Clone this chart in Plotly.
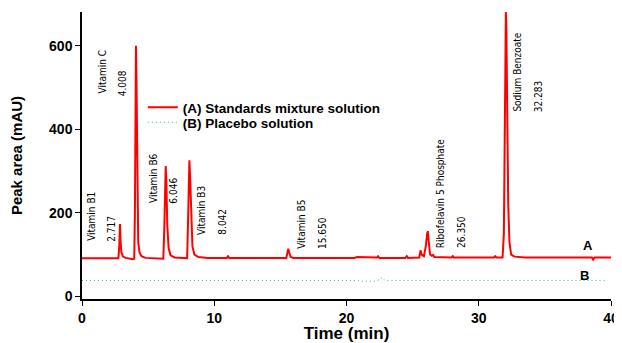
import plotly.graph_objects as go

# ---- Data ----
time_a = [0, 2.75, 2.82, 2.87, 2.92, 2.98, 3.1, 3.3, 3.85, 3.95, 4.0, 4.05, 4.08, 4.12, 4.18, 4.25, 4.35, 4.5, 4.8,
          6.15, 6.22, 6.28, 6.33, 6.38, 6.45, 6.55, 6.7, 7.0,
          7.95, 8.02, 8.08, 8.12, 8.17, 8.25, 8.35, 8.5, 8.8, 9.5,
          10.95, 11.04, 11.12, 15.45, 15.55, 15.6, 15.67, 15.78, 16.0,
          20.6, 20.8, 21.8, 22.3, 22.39, 22.48, 24.45, 24.56, 24.65,
          25.5, 25.6, 25.68, 25.85, 26.0, 26.1, 26.15, 26.22, 26.32, 26.45, 26.55, 26.65,
          27.95, 28.04, 28.1, 31.15, 31.24, 31.33,
          31.8, 31.9, 31.97, 32.02, 32.05, 32.09, 32.15, 32.23, 32.32, 32.45, 32.7, 33.5,
          38.55, 38.65, 38.75, 40]
signal_a = [91, 91, 120, 173, 130, 105, 95, 92, 89, 90, 200, 520, 600, 520, 250, 130, 105, 96, 92,
            90, 160, 280, 312, 270, 170, 115, 98, 93,
            91, 180, 300, 326, 290, 180, 120, 100, 94, 92,
            92, 97, 92, 92, 110, 114, 105, 94, 92,
            92, 94, 94, 93, 96, 92, 92, 96, 92,
            93, 110, 100, 96, 120, 150, 156, 130, 100, 97, 99, 94,
            93, 96, 93, 93, 96, 93,
            93, 150, 400, 640, 682, 640, 450, 220, 130, 100, 95, 93,
            93, 88, 93, 93]

time_b = [0, 20.8, 21.0, 22.2, 22.5, 22.7, 22.9, 39.7]
signal_b = [38, 38, 36, 36, 40, 45, 38, 38]

label_texts = ["Vitamin B1", "2.717", "Vitamin C", "4.008", "Vitamin B6", "6.046",
               "Vitamin B3", "8.042", "Vitamin B5", "15.650", "Ribofelavin 5 Phosphate",
               "26.350", "Sodium Benzoate", "32.283"]
label_x = [0.66, 2.17, 1.57, 3.12, 5.35, 6.91, 9.05, 10.64, 16.54, 18.13, 27.08, 28.65, 32.96, 34.52]
label_y = [192, 161, 538, 511, 283, 254, 206, 178, 173, 151, 245, 154, 538, 478]

series_names = ["(A) Standards mixture solution", "(B) Placebo solution"]
x_ticks = [0, 10, 20, 30, 40]
y_ticks = [0, 200, 400, 600]

BOLD = dict(family="Liberation Sans, Arial, sans-serif", weight="bold", color="black")
NARROW = "Liberation Sans Narrow, Arial Narrow, DejaVu Sans Condensed, sans-serif"

fig = go.Figure()
fig.add_trace(go.Scatter(x=time_a, y=signal_a, mode="lines", name=series_names[0],
                         line=dict(color="#ff0000", width=2), legend="legend"))
fig.add_trace(go.Scatter(x=time_b, y=signal_b, mode="lines", name=series_names[1],
                         line=dict(color="#22cc55", width=1, dash="1px,3px"), legend="legend2"))

for t, x, y in zip(label_texts, label_x, label_y):
    fig.add_annotation(x=x, y=y, text=t, textangle=-90, showarrow=False,
                       xanchor="center", yanchor="middle",
                       font=dict(family=NARROW, size=10, color="black"))

fig.add_annotation(x=38.25, y=121, text="A", showarrow=False, xanchor="center", yanchor="middle",
                   font=dict(**BOLD, size=13))
fig.add_annotation(x=37.97, y=50, text="B", showarrow=False, xanchor="center", yanchor="middle",
                   font=dict(**BOLD, size=13))

legend_style = dict(xanchor="left", yanchor="top", bgcolor="rgba(0,0,0,0)",
                    font=dict(**BOLD, size=13.5))
# The page body adds an 8px offset, so the figure is 8px smaller on each axis.
fig.update_layout(
    width=614, height=335,
    margin=dict(l=74, r=11, t=4, b=44),
    paper_bgcolor="white", plot_bgcolor="white",
    showlegend=True,
    legend=dict(x=0.115, y=0.721, **legend_style),
    legend2=dict(x=0.115, y=0.669, **legend_style),
)
fig.update_xaxes(range=[0, 40], tickvals=x_ticks, showgrid=False, zeroline=False,
                 showline=True, linecolor="black", linewidth=1.5, automargin=False,
                 ticks="outside", ticklen=5, tickcolor="black", tickwidth=1,
                 tickfont=dict(**BOLD, size=14),
                 title=dict(text="Time (min)", font=dict(**BOLD, size=17), standoff=0))
fig.update_yaxes(range=[-6.5, 681], tickvals=y_ticks, showgrid=False, zeroline=False,
                 showline=True, linecolor="black", linewidth=1.5, automargin=False,
                 ticks="outside", ticklen=5, tickcolor="black", tickwidth=1,
                 tickfont=dict(**BOLD, size=14),
                 title=dict(text="Peak area (mAU)", font=dict(**BOLD, size=15), standoff=23))

fig.write_html("out.html")
